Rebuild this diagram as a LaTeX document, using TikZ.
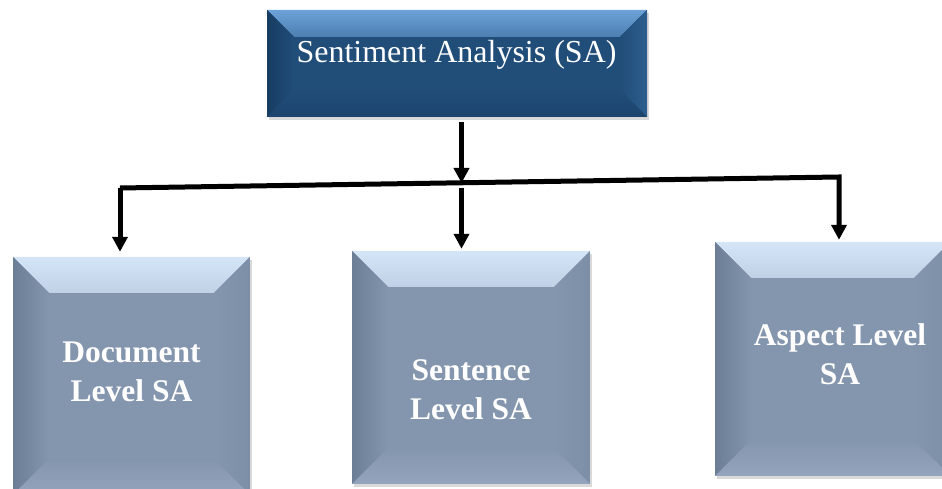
\documentclass[tikz,border=0pt]{standalone}
\usepackage{fontspec}
\setmainfont{Liberation Serif}
\usetikzlibrary{arrows.meta,shadows}

\newcommand{\bevw}{27pt}
\definecolor{navyface}{HTML}{214D79}
\definecolor{navytop}{HTML}{6CA2D8}
\definecolor{navyleft}{HTML}{173C62}
\definecolor{navyright}{HTML}{2D5E8D}
\definecolor{navybot}{HTML}{1B446D}
\definecolor{slateface}{HTML}{8495AE}
\definecolor{slatetop}{HTML}{D4E5F8}
\definecolor{slateleft}{HTML}{6C7D96}
\definecolor{slateright}{HTML}{7D8EA7}
\definecolor{slatebot}{HTML}{93A4BC}

\begin{document}
\begin{tikzpicture}[x=1pt, y=1pt,
    % bevelled box: face, top edge, left edge, right edge, bottom edge
    bevel size/.code={\def\bevw{#1}},
    bevel/.style n args={5}{
        fill=#1,
        drop shadow={opacity=0.3, shadow xshift=2pt, shadow yshift=-3pt},
        path picture={
            \def\pb{path picture bounding box}
            \shade[top color=#2, bottom color=#1, middle color=#1!82!#2]
                (\pb.north west) -- (\pb.north east)
                -- ([shift={(-\bevw,-\bevw)}]\pb.north east)
                -- ([shift={(\bevw,-\bevw)}]\pb.north west) -- cycle;
            \shade[left color=#3, right color=#1]
                (\pb.north west) -- ([shift={(\bevw,-\bevw)}]\pb.north west)
                -- ([shift={(\bevw,\bevw)}]\pb.south west) -- (\pb.south west) -- cycle;
            \shade[left color=#1, right color=#4]
                (\pb.north east) -- ([shift={(-\bevw,-\bevw)}]\pb.north east)
                -- ([shift={(-\bevw,\bevw)}]\pb.south east) -- (\pb.south east) -- cycle;
            \shade[top color=#1, bottom color=#5]
                (\pb.south west) -- ([shift={(\bevw,\bevw)}]\pb.south west)
                -- ([shift={(-\bevw,\bevw)}]\pb.south east) -- (\pb.south east) -- cycle;
        }
    },
    topbox/.style={bevel size=27pt,
        bevel={navyface}{navytop}{navyleft}{navyright}{navybot},
        inner sep=0pt, minimum width=380pt, minimum height=107pt},
    levelbox/.style={bevel size=36pt,
        bevel={slateface}{slatetop}{slateleft}{slateright}{slatebot},
        inner sep=0pt, minimum width=237pt, minimum height=235pt},
    txt/.style={text=white, align=center, inner sep=0pt,
        font=\fontsize{32}{39}\selectfont},
    btxt/.style={txt, font=\fontsize{31.5}{39}\selectfont\bfseries},
    arr/.style={line width=5pt, line join=miter,
        -{Triangle[width=15pt, length=15pt]}}
]
    \useasboundingbox (0,0) rectangle (942,489);

    % boxes
    \node (sa) [topbox] at (457,425.5) {};
    \node (doc) [levelbox, minimum height=238pt] at (131.5,113) {};
    \node (sent) [levelbox, minimum width=238pt, minimum height=233pt] at (471,121.5) {};
    \node (asp) [levelbox, minimum width=235pt, minimum height=234pt] at (832.5,130) {};

    % labels
    \node (satxt) [txt, anchor=base] at (456.5,426) {Sentiment Analysis (SA)};
    \node (doctxt) [btxt] at (131.5,117) {Document\\Level SA};
    \node (senttxt) [btxt] at (471,99) {Sentence\\Level SA};
    \node (asptxt) [btxt] at (840,135) {Aspect Level\\SA};

    % connectors
    \coordinate (busL) at (120,301);
    \coordinate (busR) at (839,312);
    \coordinate (split) at (461.5,306);
    \draw[arr, shorten <=5pt] (sa.south -| split) -- (split);
    \draw[arr, shorten >=2pt] (busL) -- (busR) -- (busR |- asp.north);
    \draw[arr, shorten >=5pt] (busL) -- (busL |- doc.north);
    \draw[arr, shorten >=2pt] ([yshift=-5pt]split) -- (split |- sent.north);
\end{tikzpicture}
\end{document}
